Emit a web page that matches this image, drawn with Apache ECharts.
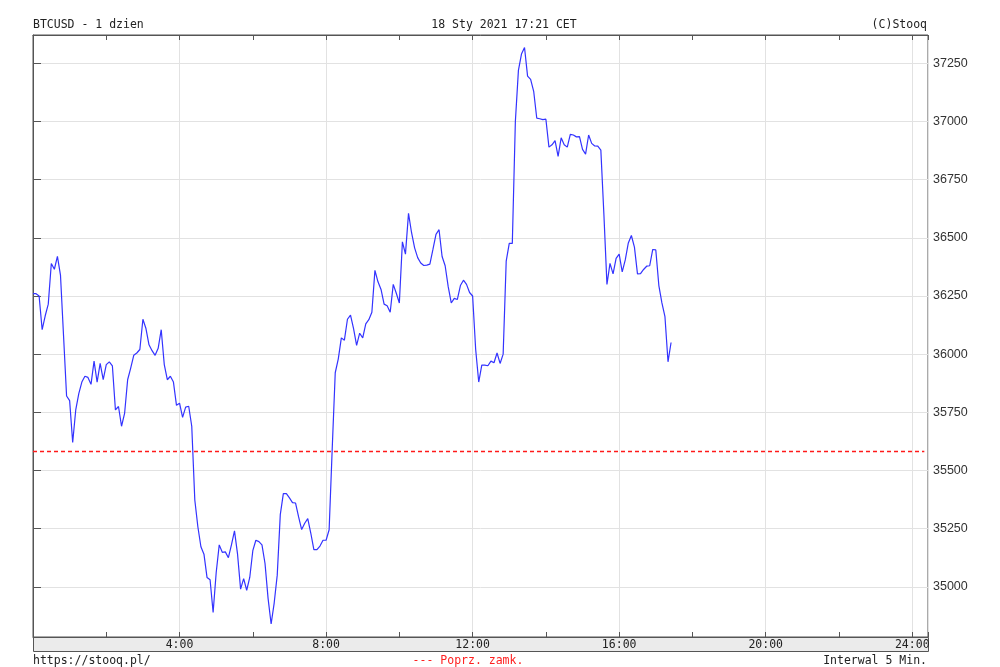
<!DOCTYPE html>
<html>
<head>
<meta charset="utf-8">
<script src="https://cdn.jsdelivr.net/npm/echarts@6/dist/echarts.min.js"></script>
<style>
html,body{margin:0;padding:0;background:#fff;}
#chart{width:1000px;height:667px;}
</style>
</head>
<body>
<div id="chart"></div>
<script>
// ---- data ----
const titleLeft = 'BTCUSD - 1 dzien';
const titleCenter = '18 Sty 2021 17:21 CET';
const titleRight = '(C)Stooq';
const footerLeft = 'https://stooq.pl/';
const footerCenter = '--- Poprz. zamk.';
const footerRight = 'Interwal 5 Min.';

const stepMinutes = 5;           // "Interwal 5 Min."
const prices = [
36260,36260,36250,36105,36165,36215,36390,36365,36420,36340,
36080,35820,35800,35620,35760,35830,35880,35905,35900,35870,
35970,35880,35960,35890,35955,35967,35950,35760,35775,35690,
35745,35890,35940,35995,36005,36020,36150,36110,36040,36015,
35995,36025,36105,35955,35890,35905,35880,35780,35789,35728,
35772,35776,35690,35373,35258,35172,35140,35040,35030,34890,
35060,35180,35148,35150,35125,35180,35240,35140,34990,35035,
34985,35040,35155,35200,35194,35180,35100,34950,34840,34930,
35050,35310,35400,35400,35382,35362,35360,35300,35246,35273,
35293,35230,35160,35160,35175,35200,35200,35245,35590,35920,
35980,36070,36060,36150,36168,36110,36038,36090,36070,36130,
36148,36180,36360,36311,36278,36215,36208,36180,36300,36262,
36220,36483,36430,36605,36522,36457,36415,36392,36381,36383,
36387,36450,36515,36535,36420,36380,36290,36220,36240,36235,
36295,36318,36300,36265,36250,36020,35880,35953,35953,35950,
35970,35963,36005,35960,36000,36400,36476,36476,37000,37220,
37290,37318,37195,37181,37130,37015,37012,37008,37010,36890,
36900,36918,36850,36930,36900,36890,36945,36942,36934,36935,
36880,36860,36942,36906,36895,36894,36877,36600,36300,36390,
36345,36412,36430,36354,36405,36478,36510,36460,36345,36346,
36364,36378,36380,36450,36448,36295,36220,36161,35967,36050
];
const prevClose = 35582;
const yTicks = [35000,35250,35500,35750,36000,36250,36500,36750,37000,37250];
const yMin = 34784, yMax = 37372;
const xMinHour = 0, xMaxHour = 24.43;
const xLabelHours = [4,8,12,16,20,24];

// ---- build ----
const seriesData = prices.map((v,i)=>[i*stepMinutes/60, v]);
const prevCloseData = [[xMinHour, prevClose],[xMaxHour - 0.1, prevClose]];
const mono = '11.5px "DejaVu Sans Mono", "Liberation Mono", monospace';
const borderColor = '#555';
const gridColor = '#e2e2e2';

function tickAxis(pos){
  return { type:'value', position:pos, offset:-4, min:yMin, max:yMax, scale:true,
    axisLine:{show:false},
    axisTick:{show:true, inside:false, length:4, customValues:yTicks, lineStyle:{color:borderColor}},
    axisLabel:{show:false}, splitLine:{show:false} };
}

const chart = echarts.init(document.getElementById('chart'), null, {renderer:'canvas'});
chart.setOption({
  animation:false,
  backgroundColor:'#fff',
  grid:{left:33, right:72, top:35, bottom:30, show:true, borderColor:borderColor, borderWidth:1, backgroundColor:'#fff'},
  xAxis:[
    { type:'value', position:'bottom', min:xMinHour, max:xMaxHour, interval:2,
      axisLine:{show:true, lineStyle:{color:borderColor}},
      axisTick:{show:true, inside:true, length:5, lineStyle:{color:borderColor}},
      splitLine:{show:false},
      axisLabel:{show:true, margin:2, color:'#222', fontFamily:'"DejaVu Sans Mono", "Liberation Mono", monospace', fontSize:11.5,
        formatter:(v)=> (xLabelHours.indexOf(v) >= 0 ? v + ':00' : '')}
    },
    { type:'value', position:'top', min:xMinHour, max:xMaxHour, interval:2,
      axisLine:{show:true, lineStyle:{color:borderColor}},
      axisTick:{show:true, inside:true, length:5, lineStyle:{color:borderColor}},
      splitLine:{show:false}, axisLabel:{show:false}
    },
    { type:'value', position:'bottom', min:xMinHour, max:xMaxHour, interval:4,
      axisLine:{show:false}, axisTick:{show:false}, axisLabel:{show:false},
      splitLine:{show:true, lineStyle:{color:gridColor, width:1}}
    }
  ],
  yAxis:[
    { type:'value', position:'right', min:yMin, max:yMax, scale:true,
      axisLine:{show:true, lineStyle:{color:borderColor}},
      axisTick:{show:false, customValues:yTicks},
      axisLabel:{show:true, customValues:yTicks, margin:5, color:'#333', fontFamily:'"Liberation Sans", Arial, sans-serif', fontSize:12.5,
        formatter:(v)=> String(Math.round(v))},
      splitLine:{show:true, lineStyle:{color:gridColor, width:1}}
    },
    tickAxis('left'),
    tickAxis('right')
  ],
  series:[
    {
      type:'line', xAxisIndex:0, yAxisIndex:0, data:prevCloseData,
      showSymbol:false, symbol:'none', silent:true, color:'#ff0000',
      lineStyle:{color:'#ff1a1a', type:[4,3], width:1.5, opacity:1},
      z:3
    },
    {
      type:'line', xAxisIndex:0, yAxisIndex:0, data:seriesData,
      showSymbol:false, symbol:'none', color:'#3333ff',
      lineStyle:{color:'#3333ff', width:1.2},
      z:5
    }
  ],
  graphic:[
    {type:'rect', z:-10, shape:{x:33.5, y:637.5, width:895, height:14}, style:{fill:'#ebebeb', stroke:borderColor, lineWidth:1}},
    {type:'text', style:{text:titleLeft, x:33, y:25, font:mono, fill:'#222', textAlign:'left', textVerticalAlign:'middle'}},
    {type:'text', style:{text:titleCenter, x:504, y:25, font:mono, fill:'#222', textAlign:'center', textVerticalAlign:'middle'}},
    {type:'text', style:{text:titleRight, x:927, y:25, font:mono, fill:'#222', textAlign:'right', textVerticalAlign:'middle'}},
    {type:'text', style:{text:footerLeft, x:33, y:661, font:mono, fill:'#222', textAlign:'left', textVerticalAlign:'middle'}},
    {type:'text', style:{text:footerCenter, x:468, y:661, font:mono, fill:'#ff2020', textAlign:'center', textVerticalAlign:'middle'}},
    {type:'text', style:{text:footerRight, x:927, y:661, font:mono, fill:'#222', textAlign:'right', textVerticalAlign:'middle'}}
  ]
});
</script>
</body>
</html>
